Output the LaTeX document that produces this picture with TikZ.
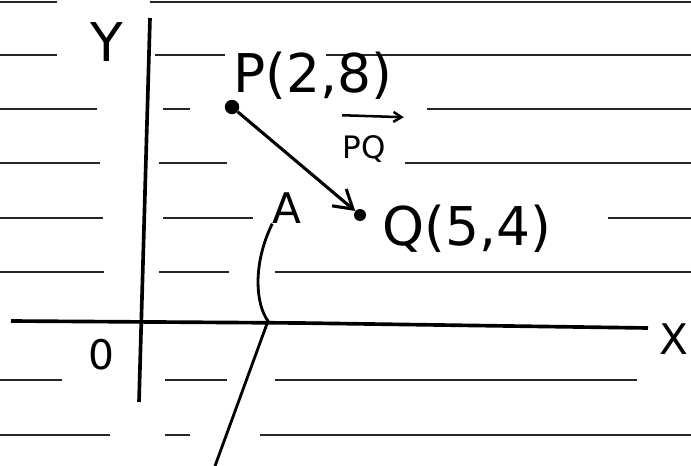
\documentclass[tikz,border=0pt]{standalone}
\usepackage{fontspec}
\setmainfont{DejaVu Sans}
\usetikzlibrary{arrows.meta, positioning}

\begin{document}
\begin{tikzpicture}[x=0.025cm, y=-0.025cm,
    rule/.style={line width=1.7pt, black!85},
    axis/.style={line width=2.6pt},
    dot/.style={circle, fill, inner sep=0pt, minimum size=0.36cm},
    lbl/.style={inner sep=0pt, font=\fontsize{38}{42}\selectfont},
    vec/.style={line width=2.2pt, -{Straight Barb[length=0.45cm, width=0.55cm]}}]
    \useasboundingbox (0,0) rectangle (691,466);

    % lineas del papel: y / desde / hasta
    \foreach \y/\a/\b in {2/0/57, 2/150/691,
        55/0/57, 55/155/225, 55/326/691,
        109/0/97, 109/163/190, 109/427/691,
        163/0/100, 163/159/227, 163/405/691,
        218/0/103, 218/163/253, 218/608/691,
        272/0/104, 272/159/229, 272/275/691,
        380/0/62, 380/165/227, 380/275/637,
        435/0/110, 435/165/190, 435/260/691}
        \draw[rule] (\a,\y) -- (\b,\y);

    % ejes
    \draw[axis] (150,18) -- (139,402);
    \draw[axis] (11,321) -- (300,323) -- (648,328);
    \node[font=\fontsize{38}{42}\selectfont] (ylab) at (107,42) {Y};
    \node[font=\fontsize{30}{34}\selectfont] (xlab) at (674,339) {X};
    \node[font=\fontsize{29}{32}\selectfont] (orig) at (101,355) {0};

    % puntos P y Q
    \node[dot] (p) at (232,107) {};
    \node[dot, minimum size=0.3cm] (q) at (360,215) {};
    \node[lbl] (plab) at (313,76) {P(2,8)};
    \node[lbl] (qlab) at (467,229) {Q(5,4)};
    \draw[vec] (p) -- (q);

    % etiqueta del vector
    \node[inner sep=0pt, font=\fontsize{22}{25}\selectfont] (pq) at (364,149) {PQ};
    \draw[line width=1.8pt, -{Straight Barb[length=0.2cm, width=0.25cm]}]
        ([yshift=0.5cm]pq.north west) -- ([xshift=0.45cm, yshift=0.45cm]pq.north east);

    % A con su linea
    \node[inner sep=0pt, font=\fontsize{30}{34}\selectfont] (a) at (287,208) {A};
    \coordinate (tail) at (215,466);
    \draw[line width=2pt] (tail) -- (268,321)
        .. controls (256,305) and (252,265) .. (a.south west);
\end{tikzpicture}
\end{document}
